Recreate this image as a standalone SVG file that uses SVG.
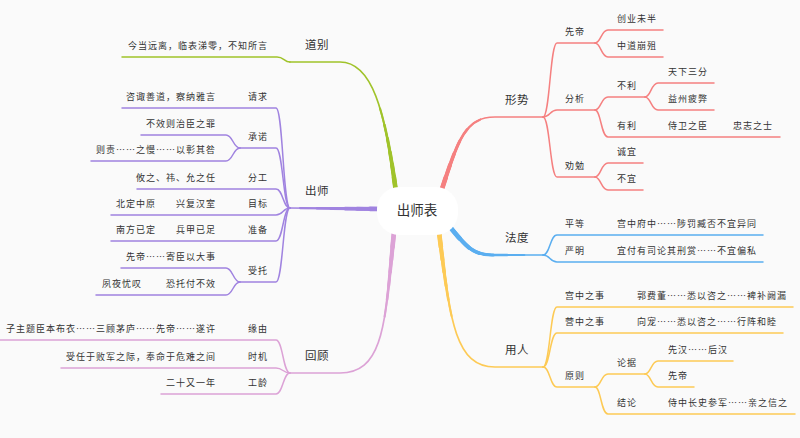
<svg xmlns="http://www.w3.org/2000/svg" xmlns:xlink="http://www.w3.org/1999/xlink" width="800" height="438" viewBox="0 0 800 438">
<style>
.t{font-family:"Noto Sans CJK SC","Noto Sans",sans-serif;fill:#333}
.s{font-size:9px;letter-spacing:1px}
.m{font-size:11.5px;letter-spacing:0.5px}
.c{font-size:13.5px;text-anchor:middle}
.e{text-anchor:end}
.l{fill:none;stroke-width:1.5;stroke-linecap:round;stroke-linejoin:round}
.w{fill:none;stroke-linecap:round}
.w1{stroke-width:4.6;stroke-dasharray:15 2000}
.w2{stroke-width:4.1;stroke-dasharray:28 2000}
.w3{stroke-width:3.6;stroke-dasharray:40 2000}
.w4{stroke-width:3.1;stroke-dasharray:54 2000}
.w5{stroke-width:2.6;stroke-dasharray:68 2000}
.w6{stroke-width:2.1;stroke-dasharray:85 2000}
.w7{stroke-width:1.7}
.g{stroke:#a0c32a}.p{stroke:#a083e0}.k{stroke:#dca2d6}.r{stroke:#f58080}.b{stroke:#5aaef0}.y{stroke:#fdca55}
</style>
<defs>
<path id="bg" d="M 396 192 C 385 110 372 62 340 62 L 290 62"/>
<path id="bp" d="M 385 209 L 290 208"/>
<path id="bk" d="M 394 232 C 385 320 385 373 340 373 L 290 373"/>
<path id="br" d="M 441 192 C 458 140 465 117 495 117 L 543 117"/>
<path id="bb" d="M 450 227 C 465 245 472 255 492 255 L 543 255"/>
<path id="by" d="M 439 232 C 450 320 455 367 495 367 L 543 367"/>
</defs>
<rect width="800" height="438" fill="#fafafa"/>
<g id="connectors">
<g class="g"><use xlink:href="#bg" class="w w7"/><use xlink:href="#bg" class="w w6"/><use xlink:href="#bg" class="w w5"/><use xlink:href="#bg" class="w w4"/><use xlink:href="#bg" class="w w3"/><use xlink:href="#bg" class="w w2"/><use xlink:href="#bg" class="w w1"/></g>
<g class="p"><use xlink:href="#bp" class="w w7"/><use xlink:href="#bp" class="w w6"/><use xlink:href="#bp" class="w w5"/><use xlink:href="#bp" class="w w4"/><use xlink:href="#bp" class="w w3"/><use xlink:href="#bp" class="w w2"/><use xlink:href="#bp" class="w w1"/></g>
<g class="k"><use xlink:href="#bk" class="w w7"/><use xlink:href="#bk" class="w w6"/><use xlink:href="#bk" class="w w5"/><use xlink:href="#bk" class="w w4"/><use xlink:href="#bk" class="w w3"/><use xlink:href="#bk" class="w w2"/><use xlink:href="#bk" class="w w1"/></g>
<g class="r"><use xlink:href="#br" class="w w7"/><use xlink:href="#br" class="w w6"/><use xlink:href="#br" class="w w5"/><use xlink:href="#br" class="w w4"/><use xlink:href="#br" class="w w3"/><use xlink:href="#br" class="w w2"/><use xlink:href="#br" class="w w1"/></g>
<g class="b"><use xlink:href="#bb" class="w w7"/><use xlink:href="#bb" class="w w6"/><use xlink:href="#bb" class="w w5"/><use xlink:href="#bb" class="w w4"/><use xlink:href="#bb" class="w w3"/><use xlink:href="#bb" class="w w2"/><use xlink:href="#bb" class="w w1"/></g>
<g class="y"><use xlink:href="#by" class="w w7"/><use xlink:href="#by" class="w w6"/><use xlink:href="#by" class="w w5"/><use xlink:href="#by" class="w w4"/><use xlink:href="#by" class="w w3"/><use xlink:href="#by" class="w w2"/><use xlink:href="#by" class="w w1"/></g>

<path class="l g" d="M 290 62 C 284 62 284 57 277 57 L 122 57"/>

<path class="l p" d="M 290 208 C 283 208 283 108 276 108 L 122 108"/>
<path class="l p" d="M 290 208 C 283 208 283 148 276 148 L 240 148"/>
<path class="l p" d="M 240 148 C 233 148 233 135 226 135 L 141 135"/>
<path class="l p" d="M 240 148 C 233 148 233 161 226 161 L 91 161"/>
<path class="l p" d="M 290 208 C 283 208 283 189 276 189 L 137 189"/>
<path class="l p" d="M 290 208 C 283 208 283 215 276 215 L 111 215"/>
<path class="l p" d="M 290 208 C 283 208 283 241 276 241 L 111 241"/>
<path class="l p" d="M 290 208 C 283 208 283 282 276 282 L 240 282"/>
<path class="l p" d="M 240 282 C 233 282 233 268 226 268 L 121 268"/>
<path class="l p" d="M 240 282 C 233 282 233 295 226 295 L 96 295"/>

<path class="l k" d="M 290 373 C 283 373 283 340 276 340 L 0 340"/>
<path class="l k" d="M 290 373 C 283 373 283 368 276 368 L 61 368"/>
<path class="l k" d="M 290 373 C 283 373 283 394 276 394 L 161 394"/>

<path class="l r" d="M 543 117 C 550 117 550 43 557 43 L 595 43"/>
<path class="l r" d="M 595 43 C 601 43 601 30 608 30 L 663 30"/>
<path class="l r" d="M 595 43 C 601 43 601 57 608 57 L 663 57"/>
<path class="l r" d="M 543 117 C 550 117 550 110 557 110 L 595 110"/>
<path class="l r" d="M 595 110 C 601 110 601 97 608 97 L 645 97"/>
<path class="l r" d="M 645 97 C 651 97 651 83 658 83 L 714 83"/>
<path class="l r" d="M 645 97 C 651 97 651 110 658 110 L 714 110"/>
<path class="l r" d="M 595 110 C 601 110 601 137 608 137 L 780 137"/>
<path class="l r" d="M 543 117 C 550 117 550 177 557 177 L 595 177"/>
<path class="l r" d="M 595 177 C 601 177 601 163 608 163 L 643 163"/>
<path class="l r" d="M 595 177 C 601 177 601 190 608 190 L 643 190"/>

<path class="l b" d="M 543 255 C 550 255 550 235 557 235 L 763 235"/>
<path class="l b" d="M 543 255 C 550 255 550 262 557 262 L 763 262"/>

<path class="l y" d="M 543 367 C 550 367 550 307 557 307 L 793 307"/>
<path class="l y" d="M 543 367 C 550 367 550 333 557 333 L 783 333"/>
<path class="l y" d="M 543 367 C 550 367 550 387 557 387 L 595 387"/>
<path class="l y" d="M 595 387 C 601 387 601 374 608 374 L 645 374"/>
<path class="l y" d="M 645 374 C 651 374 651 361 658 361 L 733 361"/>
<path class="l y" d="M 645 374 C 651 374 651 387 658 387 L 694 387"/>
<path class="l y" d="M 595 387 C 601 387 601 414 608 414 L 795 414"/>
</g>

<g id="root"><rect x="377" y="187" width="81" height="48" rx="22" fill="#ffffff"/><text class="t c" x="417" y="215">出师表</text></g>

<g id="daobie"><text class="t m" x="305" y="49">道别</text></g>
<g id="daobie-1"><text class="t s e" x="268" y="49">今当远离，临表涕零，不知所言</text></g>

<g id="chushi"><text class="t m" x="305" y="195">出师</text></g>
<g id="qingqiu"><text class="t s e" x="268" y="100">请求</text></g>
<g id="qingqiu-1"><text class="t s e" x="216" y="100">咨诹善道，察纳雅言</text></g>
<g id="chengnuo"><text class="t s e" x="268" y="140">承诺</text></g>
<g id="chengnuo-1"><text class="t s e" x="216" y="127">不效则治臣之罪</text></g>
<g id="chengnuo-2"><text class="t s e" x="216" y="153">则责……之慢……以彰其咎</text></g>
<g id="fengong"><text class="t s e" x="268" y="181">分工</text></g>
<g id="fengong-1"><text class="t s e" x="216" y="181">攸之、祎、允之任</text></g>
<g id="mubiao"><text class="t s e" x="268" y="207">目标</text></g>
<g id="mubiao-1"><text class="t s e" x="216" y="207">兴复汉室</text></g>
<g id="mubiao-2"><text class="t s e" x="156" y="207">北定中原</text></g>
<g id="zhunbei"><text class="t s e" x="268" y="233">准备</text></g>
<g id="zhunbei-1"><text class="t s e" x="216" y="233">兵甲已足</text></g>
<g id="zhunbei-2"><text class="t s e" x="156" y="233">南方已定</text></g>
<g id="shoutuo"><text class="t s e" x="268" y="274">受托</text></g>
<g id="shoutuo-1"><text class="t s e" x="216" y="260">先帝……寄臣以大事</text></g>
<g id="shoutuo-2"><text class="t s e" x="216" y="287">恐托付不效</text></g>
<g id="shoutuo-3"><text class="t s e" x="142" y="287">夙夜忧叹</text></g>

<g id="huigu"><text class="t m" x="305" y="360">回顾</text></g>
<g id="yuanyou"><text class="t s e" x="268" y="332">缘由</text></g>
<g id="yuanyou-1"><text class="t s e" x="216" y="332">子主题臣本布衣……三顾茅庐……先帝……遂许</text></g>
<g id="shiji"><text class="t s e" x="268" y="360">时机</text></g>
<g id="shiji-1"><text class="t s e" x="216" y="360">受任于败军之际，奉命于危难之间</text></g>
<g id="gongling"><text class="t s e" x="268" y="386">工龄</text></g>
<g id="gongling-1"><text class="t s e" x="216" y="386">二十又一年</text></g>

<g id="xingshi"><text class="t m" x="505" y="104">形势</text></g>
<g id="xiandi"><text class="t s" x="565" y="35">先帝</text></g>
<g id="xiandi-1"><text class="t s" x="617" y="22">创业未半</text></g>
<g id="xiandi-2"><text class="t s" x="617" y="49">中道崩殂</text></g>
<g id="fenxi"><text class="t s" x="565" y="102">分析</text></g>
<g id="buli"><text class="t s" x="617" y="89">不利</text></g>
<g id="buli-1"><text class="t s" x="668" y="75">天下三分</text></g>
<g id="buli-2"><text class="t s" x="668" y="102">益州疲弊</text></g>
<g id="youli"><text class="t s" x="617" y="129">有利</text></g>
<g id="youli-1"><text class="t s" x="668" y="129">侍卫之臣</text></g>
<g id="youli-2"><text class="t s" x="733" y="129">忠志之士</text></g>
<g id="quanmian"><text class="t s" x="565" y="169">劝勉</text></g>
<g id="quanmian-1"><text class="t s" x="617" y="155">诚宜</text></g>
<g id="quanmian-2"><text class="t s" x="617" y="182">不宜</text></g>

<g id="fadu"><text class="t m" x="505" y="242">法度</text></g>
<g id="pingdeng"><text class="t s" x="565" y="227">平等</text></g>
<g id="pingdeng-1"><text class="t s" x="617" y="227">宫中府中……陟罚臧否不宜异同</text></g>
<g id="yanming"><text class="t s" x="565" y="254">严明</text></g>
<g id="yanming-1"><text class="t s" x="617" y="254">宜付有司论其刑赏……不宜偏私</text></g>

<g id="yongren"><text class="t m" x="505" y="354">用人</text></g>
<g id="gongzhong"><text class="t s" x="565" y="299">宫中之事</text></g>
<g id="gongzhong-1"><text class="t s" x="637" y="299">郭费董……悉以咨之……裨补阙漏</text></g>
<g id="yingzhong"><text class="t s" x="565" y="325">营中之事</text></g>
<g id="yingzhong-1"><text class="t s" x="637" y="325">向宠……悉以咨之……行阵和睦</text></g>
<g id="yuanze"><text class="t s" x="565" y="379">原则</text></g>
<g id="lunju"><text class="t s" x="617" y="366">论据</text></g>
<g id="lunju-1"><text class="t s" x="668" y="353">先汉……后汉</text></g>
<g id="lunju-2"><text class="t s" x="668" y="379">先帝</text></g>
<g id="jielun"><text class="t s" x="617" y="406">结论</text></g>
<g id="jielun-1"><text class="t s" x="668" y="406">侍中长史参军……亲之信之</text></g>
</svg>
